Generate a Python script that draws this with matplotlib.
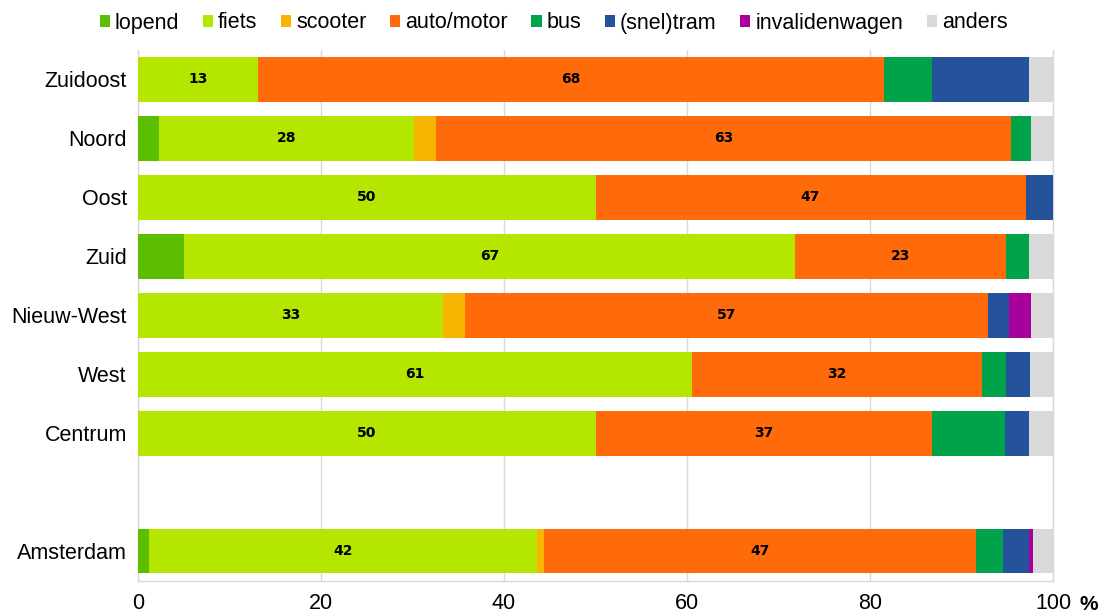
import matplotlib
matplotlib.use("Agg")
import matplotlib.pyplot as plt
import numpy as np
from matplotlib.patches import Patch

categories = ["Zuidoost", "Noord", "Oost", "Zuid", "Nieuw-West", "West", "Centrum", "Amsterdam"]
series = ["lopend", "fiets", "scooter", "auto/motor", "bus", "(snel)tram", "invalidenwagen", "anders"]

lopend       = [0.0, 2.3, 0.0, 5.0, 0.0, 0.0, 0.0, 1.2]
fiets        = [13.1, 27.9, 50.0, 66.8, 33.3, 60.6, 50.0, 42.4]
scooter      = [0.0, 2.4, 0.0, 0.0, 2.4, 0.0, 0.0, 0.8]
auto_motor   = [68.4, 62.8, 47.0, 23.1, 57.2, 31.6, 36.8, 47.2]
bus          = [5.3, 2.2, 0.0, 2.5, 0.0, 2.7, 8.0, 2.9]
sneltram     = [10.6, 0.0, 3.0, 0.0, 2.3, 2.6, 2.6, 2.9]
invaliden    = [0.0, 0.0, 0.0, 0.0, 2.4, 0.0, 0.0, 0.4]
anders       = [2.6, 2.4, 0.0, 2.6, 2.4, 2.6, 2.6, 2.2]

values = [lopend, fiets, scooter, auto_motor, bus, sneltram, invaliden, anders]
colors = ["#5CBE00", "#B5E600", "#F7B400", "#FF6B0A", "#00A34A", "#24529B", "#A8009C", "#D9D9D9"]
labeled = {"fiets", "auto/motor"}
xticks = [0, 20, 40, 60, 80, 100]

positions = [0, 1, 2, 3, 4, 5, 6, 8]

fig = plt.figure(figsize=(11.04, 6.13), dpi=100)
ax = fig.add_axes([138/1104, 1-580.5/613, (1053-138)/1104, (580.5-50)/613])

left = np.zeros(len(categories))
for name, vals, col in zip(series, values, colors):
    v = np.array(vals)
    ax.barh(positions, v, left=left, height=0.76, color=col, edgecolor="none", zorder=3)
    if name in labeled:
        for p, l, w in zip(positions, left, v):
            ax.text(l + w/2, p, f"{int(round(w))}", ha="center", va="center",
                    fontsize=10, fontweight="bold", family="DejaVu Sans", color="black", zorder=4)
    left += v

ax.set_xlim(0, 100)
ax.set_ylim(8.5, -0.5)
ax.set_yticks(positions)
ax.set_yticklabels(categories, fontsize=15.5, family="Liberation Sans")
ax.set_xticks(xticks)
ax.set_xticklabels([str(t) for t in xticks], fontsize=15.5, family="Liberation Sans")
ax.tick_params(axis="both", length=0)
ax.tick_params(axis="x", pad=9)
ax.tick_params(axis="y", pad=8)
ax.grid(axis="x", color="#D9D9D9", linewidth=1, zorder=0)
for s in ["top"]:
    ax.spines[s].set_visible(False)
for s in ["left", "bottom", "right"]:
    ax.spines[s].set_color("#D9D9D9")
    ax.spines[s].set_linewidth(1)

fig.text(1079/1104, 1-604/613, "%", fontsize=15, fontweight="bold", family="Liberation Sans",
         ha="left", va="center")

handles = [Patch(facecolor=c, edgecolor="none") for c in colors]
fig.legend(handles, series, loc="center", bbox_to_anchor=(553.5/1104, 1-23/613), ncol=8,
           frameon=False, prop={"family": "Liberation Sans", "size": 15.5},
           handlelength=0.47, handleheight=0.47, handletextpad=0.23, columnspacing=1.1,
           borderpad=0, borderaxespad=0)

fig.savefig("out.png", dpi=100)
